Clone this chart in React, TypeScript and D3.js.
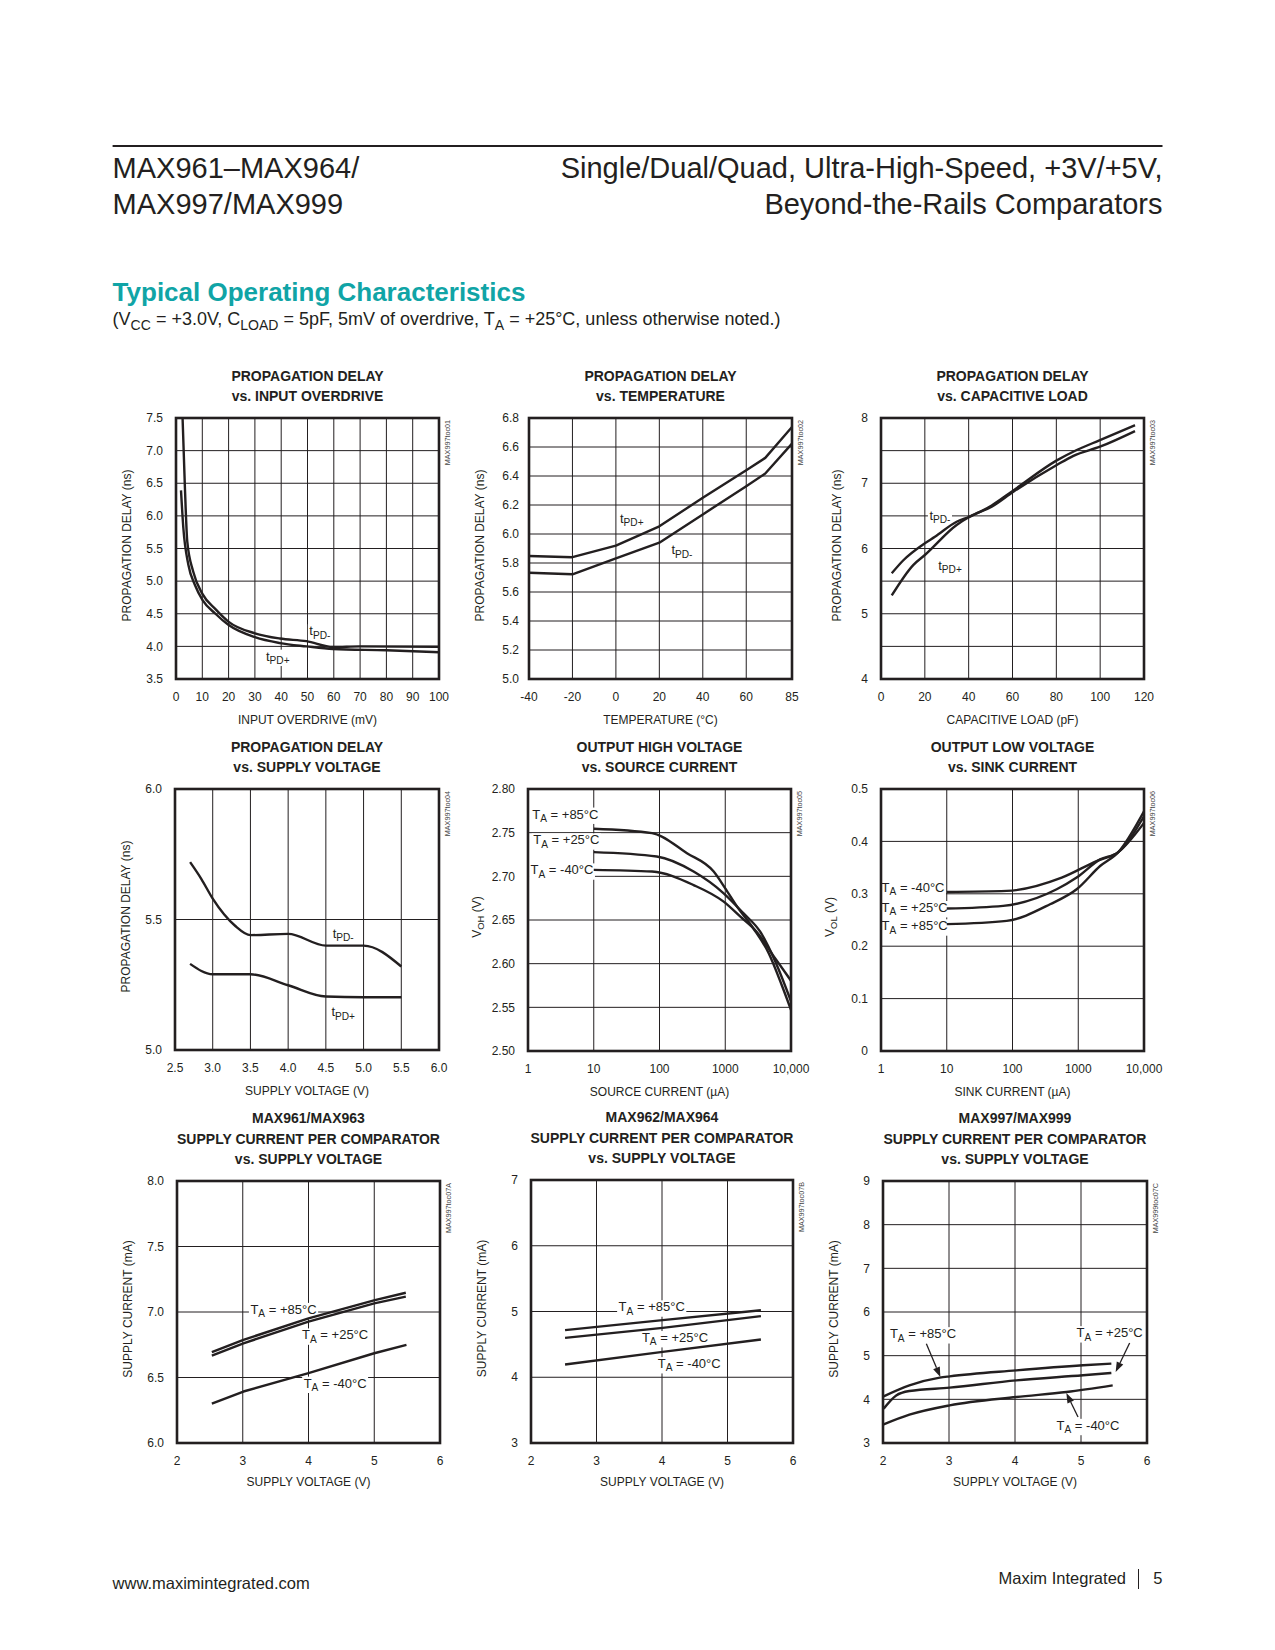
import React, { useLayoutEffect, useRef, useState } from 'react';
import * as d3 from 'd3';

type P = [number, number];

// ---------------- DATA ----------------
// 1. Propagation delay vs input overdrive
const overdriveXTicks = [0, 10, 20, 30, 40, 50, 60, 70, 80, 90, 100];
const overdriveYTicks = [3.5, 4.0, 4.5, 5.0, 5.5, 6.0, 6.5, 7.0, 7.5];
const overdriveTpdMinus: P[] = [[2.5, 7.5], [3.4, 6.42], [4.3, 5.6], [6.5, 5.15], [10.1, 4.8], [15, 4.57], [19.9, 4.38], [30, 4.2], [39.5, 4.12], [49.6, 4.08], [59.7, 3.99], [70, 4.0], [100, 3.995]];
const overdriveTpdPlus: P[] = [[1.9, 6.39], [2.8, 5.81], [4.7, 5.25], [7.2, 4.94], [10.1, 4.71], [15, 4.5], [19.9, 4.33], [30, 4.14], [39.5, 4.05], [49.6, 4.0], [59.7, 3.96], [80, 3.94], [100, 3.91]];

// 2. Propagation delay vs temperature
const tempXTicks = [-40, -20, 0, 20, 40, 60, 85];
const tempYTicks = [5.0, 5.2, 5.4, 5.6, 5.8, 6.0, 6.2, 6.4, 6.6, 6.8];
const tempTpdPlus: P[] = [[-40, 5.848], [-20, 5.84], [0, 5.92], [20, 6.053], [40, 6.25], [60, 6.44], [70.4, 6.525], [85, 6.738]];
const tempTpdMinus: P[] = [[-40, 5.733], [-20, 5.722], [0, 5.832], [20, 5.94], [40, 6.135], [60, 6.33], [70.4, 6.417], [85, 6.623]];

// 3. Propagation delay vs capacitive load
const capXTicks = [0, 20, 40, 60, 80, 100, 120];
const capYTicks = [4, 5, 6, 7, 8];
const capYGrid = [4.5, 5, 5.5, 6, 6.5, 7, 7.5];
const capTpdMinus: P[] = [[4.9, 5.62], [10.2, 5.82], [20, 6.08], [24.6, 6.18], [34.5, 6.41], [40.6, 6.49], [50.5, 6.66], [60.4, 6.89], [80.2, 7.35], [89.3, 7.51], [99.9, 7.66], [115.9, 7.89]];
const capTpdPlus: P[] = [[4.9, 5.28], [14.8, 5.75], [20, 5.9], [34.5, 6.36], [40.6, 6.49], [50.5, 6.64], [60.4, 6.87], [80.2, 7.28], [87.8, 7.42], [99.9, 7.56], [115.9, 7.8]];

// 4. Propagation delay vs supply voltage
const supplyXTicks = [2.5, 3.0, 3.5, 4.0, 4.5, 5.0, 5.5, 6.0];
const supplyYTicks = [5.0, 5.5, 6.0];
const supplyTpdMinus: P[] = [[2.7, 5.72], [2.85, 5.655], [3.0, 5.58], [3.15, 5.52], [3.3, 5.475], [3.5, 5.44], [4.0, 5.445], [4.5, 5.40], [5.0, 5.40], [5.5, 5.32]];
const supplyTpdPlus: P[] = [[2.7, 5.33], [3.0, 5.29], [3.5, 5.29], [4.0, 5.248], [4.5, 5.205], [5.0, 5.202], [5.5, 5.202]];

// 5. Output high voltage vs source current
const currentXTicks = [1, 10, 100, 1000, 10000];
const vohYTicks = [2.5, 2.55, 2.6, 2.65, 2.7, 2.75, 2.8];
const voh85: P[] = [[10, 2.7545], [77, 2.7495], [262, 2.7265], [667, 2.7055], [1000, 2.6863], [1513, 2.6653], [2700, 2.640], [4580, 2.612], [7270, 2.575], [10000, 2.547]];
const voh25: P[] = [[10, 2.7277], [91, 2.7227], [330, 2.7055], [946, 2.6806], [1900, 2.6576], [3400, 2.6366], [6100, 2.5983], [10000, 2.557]];
const vohM40: P[] = [[10, 2.7074], [77, 2.7055], [330, 2.690], [946, 2.671], [1700, 2.6538], [3000, 2.6366], [5760, 2.606], [10000, 2.5805]];

// 6. Output low voltage vs sink current
const volYTicks = [0, 0.1, 0.2, 0.3, 0.4, 0.5];
const volM40: P[] = [[10, 0.3035], [81.5, 0.3055], [560, 0.3308], [1900, 0.3625], [4070, 0.3796], [10000, 0.4354]];
const vol25: P[] = [[10, 0.2719], [72, 0.277], [470, 0.3086], [946, 0.331], [2150, 0.3657], [4070, 0.3796], [10000, 0.448]];
const vol85: P[] = [[10, 0.2421], [81.5, 0.2484], [372, 0.28], [946, 0.3086], [2150, 0.353], [4070, 0.3796], [10000, 0.4575]];

// 7-9. Supply current per comparator vs supply voltage
const vccXTicks = [2, 3, 4, 5, 6];
const icc961YTicks = [6.0, 6.5, 7.0, 7.5, 8.0];
const icc961_85: P[] = [[2.53, 6.693], [3.01, 6.787], [4.0, 6.952], [5.01, 7.091], [5.48, 7.147]];
const icc961_25: P[] = [[2.53, 6.667], [3.01, 6.761], [4.0, 6.926], [5.0, 7.066], [5.48, 7.117]];
const icc961_M40: P[] = [[2.53, 6.30], [3.01, 6.393], [4.0, 6.533], [5.0, 6.685], [5.49, 6.749]];

const icc962YTicks = [3, 4, 5, 6, 7];
const icc962_85: P[] = [[2.52, 4.716], [4.01, 4.868], [5.51, 5.02]];
const icc962_25: P[] = [[2.52, 4.599], [4.01, 4.751], [5.51, 4.929]];
const icc962_M40: P[] = [[2.52, 4.193], [4.01, 4.386], [5.51, 4.574]];

const icc997YTicks = [3, 4, 5, 6, 7, 8, 9];
const icc997_85: P[] = [[2.01, 4.069], [2.4, 4.32], [2.86, 4.496], [3.01, 4.527], [4.02, 4.664], [5.03, 4.779], [5.46, 4.817]];
const icc997_25: P[] = [[2.01, 3.786], [2.2, 4.09], [2.4, 4.19], [3.01, 4.267], [4.02, 4.435], [5.03, 4.55], [5.46, 4.603]];
const icc997_M40: P[] = [[2.01, 3.427], [2.4, 3.649], [3.01, 3.863], [4.02, 4.053], [4.78, 4.168], [5.48, 4.32]];

// ---------------- STYLE ----------------
const FONT = '"Liberation Sans", Arial, Helvetica, sans-serif';
const INK = '#231f20';
const TEAL = '#10a4a6';

type Label = { x: number; y: number; text: string; anchor?: 'start' | 'middle' | 'end' };
type ArrowD = { x1: number; y1: number; x2: number; y2: number };
type Cfg = {
  left: number; top: number; width: number; height: number;
  title: string[]; xLabel: string; yLabel: string; watermark: string;
  xType: 'linear' | 'log'; xDomain: number[]; xRange?: number[]; yDomain: number[];
  xGrid: number[]; yGrid: number[]; xTicks: number[]; yTicks: number[];
  xFmt: (d: number) => string; yFmt: (d: number) => string;
  series: P[][]; smooth: boolean; labels: Label[]; arrows?: ArrowD[];
  yLabelOffset?: number; yTickGap?: number; xTitleDy?: number;
};

const f1 = (d: number) => d.toFixed(1);
const f2 = (d: number) => d.toFixed(2);
const fi = (d: number) => String(d);
const fLog = (d: number) => (d === 10000 ? '10,000' : String(d));

function parts(s: string) {
  const out: { t: string; sub: boolean }[] = [];
  const re = /_\{([^}]*)\}/g;
  let last = 0; let m: RegExpExecArray | null;
  while ((m = re.exec(s))) {
    if (m.index > last) out.push({ t: s.slice(last, m.index), sub: false });
    out.push({ t: m[1], sub: true });
    last = m.index + m[0].length;
  }
  if (last < s.length) out.push({ t: s.slice(last), sub: false });
  return out;
}

function Rich({ s, size, subScale = 0.78, subDrop = 0.26 }: { s: string; size: number; subScale?: number; subDrop?: number }) {
  const ps = parts(s);
  const off = size * subDrop;
  let inSub = false;
  return (
    <>
      {ps.map((p, i) => {
        let dy = 0;
        if (p.sub && !inSub) dy = off;
        if (!p.sub && inSub) dy = -off;
        inSub = p.sub;
        return (
          <tspan key={i} dy={dy || undefined} fontSize={p.sub ? size * subScale : size}>{p.t}</tspan>
        );
      })}
    </>
  );
}

function BgText({ x, y, text, anchor, size }: { x: number; y: number; text: string; anchor: string; size: number }) {
  const ref = useRef<SVGTextElement>(null);
  const [bb, setBb] = useState<{ x: number; y: number; w: number; h: number } | null>(null);
  useLayoutEffect(() => {
    if (ref.current) {
      const b = ref.current.getBBox();
      setBb({ x: b.x, y: b.y, w: b.width, h: b.height });
    }
  }, [x, y, text]);
  return (
    <g>
      {bb && <rect x={bb.x - 1.5} y={bb.y + 1} width={bb.w + 3} height={bb.h - 1} fill="#fff" />}
      <text ref={ref} x={x} y={y} textAnchor={anchor as any} fontSize={size} fill={INK}>
        <Rich s={text} size={size} />
      </text>
    </g>
  );
}

function Arrow({ x1, y1, x2, y2 }: ArrowD) {
  const dx = x2 - x1, dy = y2 - y1, len = Math.hypot(dx, dy);
  const ux = dx / len, uy = dy / len;
  const hl = 10, hw = 3.6;
  const bx = x2 - ux * hl, by = y2 - uy * hl;
  return (
    <g>
      <line x1={x1} y1={y1} x2={bx} y2={by} stroke={INK} strokeWidth={1.3} />
      <polygon points={`${x2},${y2} ${bx - uy * hw},${by + ux * hw} ${bx + uy * hw},${by - ux * hw}`} fill={INK} />
    </g>
  );
}

function Chart({ c, id }: { c: Cfg; id: string }) {
  const { left, top, width, height } = c;
  const x: any = c.xType === 'log'
    ? d3.scaleLog().domain(c.xDomain).range([left, left + width])
    : d3.scaleLinear().domain(c.xDomain).range((c.xRange || [0, 1]).map((f) => left + f * width));
  const y = d3.scaleLinear().domain(c.yDomain).range([top + height, top]);
  const line = d3.line<P>().x((d) => x(d[0])).y((d) => y(d[1])).curve(c.smooth ? d3.curveMonotoneX : d3.curveLinear);
  const cx = left + width / 2;
  const nT = c.title.length;
  const gap = c.yTickGap ?? 13;
  const ylo = c.yLabelOffset ?? 45;
  const xtd = c.xTitleDy ?? 45;
  return (
    <g>
      <defs>
        <clipPath id={`clip-${id}`}><rect x={left} y={top} width={width} height={height} /></clipPath>
      </defs>
      {c.title.map((t, i) => (
        <text key={i} x={cx} y={top - 17 - (nT - 1 - i) * 20.5} textAnchor="middle" fontSize={14} fontWeight="bold" fill={INK}>{t}</text>
      ))}
      {c.xGrid.map((v) => (
        <line key={'xg' + v} x1={x(v)} x2={x(v)} y1={top} y2={top + height} stroke={INK} strokeWidth={1} />
      ))}
      {c.yGrid.map((v) => (
        <line key={'yg' + v} x1={left} x2={left + width} y1={y(v)} y2={y(v)} stroke={INK} strokeWidth={1} />
      ))}
      {c.labels.map((l, i) => (
        <BgText key={'lb' + i} x={x(l.x)} y={y(l.y) + 4.5} text={l.text} anchor={l.anchor || 'middle'} size={13} />
      ))}
      <g clipPath={`url(#clip-${id})`}>
        {c.series.map((s, i) => (
          <path key={'s' + i} d={line(s) || ''} fill="none" stroke={INK} strokeWidth={2.4} strokeLinejoin="round" />
        ))}
      </g>
      {(c.arrows || []).map((a, i) => (
        <Arrow key={'ar' + i} x1={x(a.x1)} y1={y(a.y1)} x2={x(a.x2)} y2={y(a.y2)} />
      ))}
      <rect x={left} y={top} width={width} height={height} fill="none" stroke={INK} strokeWidth={2.6} />
      {c.yTicks.map((v) => (
        <text key={'yt' + v} x={left - gap} y={y(v) + 4.2} textAnchor="end" fontSize={12} fill={INK}>{c.yFmt(v)}</text>
      ))}
      {c.xTicks.map((v) => (
        <text key={'xt' + v} x={x(v)} y={top + height + 22} textAnchor="middle" fontSize={12} fill={INK}>{c.xFmt(v)}</text>
      ))}
      <text x={cx} y={top + height + xtd} textAnchor="middle" fontSize={12} fill={INK}>
        <Rich s={c.xLabel} size={12} />
      </text>
      <text transform={`translate(${left - ylo},${top + height / 2 - 3}) rotate(-90)`} textAnchor="middle" fontSize={12} fill={INK}>
        <Rich s={c.yLabel} size={12} />
      </text>
      <text transform={`translate(${left + width + 11},${top + 2}) rotate(-90)`} textAnchor="end" fontSize={7.2} fill="#444">{c.watermark}</text>
    </g>
  );
}

const PD = 'PROPAGATION DELAY (ns)';
const SC = 'SUPPLY CURRENT (mA)';
const SV = 'SUPPLY VOLTAGE (V)';
const T85 = 'T_{A} = +85°C';
const T25 = 'T_{A} = +25°C';
const TM40 = 'T_{A} = -40°C';
const SUPPLY_TITLE = ['SUPPLY CURRENT PER COMPARATOR', 'vs. SUPPLY VOLTAGE'];

const charts: Cfg[] = [
  {
    left: 176, top: 418, width: 263, height: 261,
    title: ['PROPAGATION DELAY', 'vs. INPUT OVERDRIVE'], xLabel: 'INPUT OVERDRIVE (mV)', yLabel: PD, watermark: 'MAX997toc01',
    xType: 'linear', xDomain: [0, 100], yDomain: [3.5, 7.5],
    xGrid: overdriveXTicks.slice(1, -1), yGrid: overdriveYTicks.slice(1, -1), xTicks: overdriveXTicks, yTicks: overdriveYTicks,
    xFmt: fi, yFmt: f1, series: [overdriveTpdMinus, overdriveTpdPlus], smooth: true,
    labels: [{ x: 54.7, y: 4.24, text: 't_{PD-}' }, { x: 38.7, y: 3.85, text: 't_{PD+}' }],
  },
  {
    left: 529, top: 418, width: 263, height: 261,
    title: ['PROPAGATION DELAY', 'vs. TEMPERATURE'], xLabel: 'TEMPERATURE (°C)', yLabel: PD, watermark: 'MAX997toc02',
    xType: 'linear', xDomain: [-40, 60, 85], xRange: [0, 0.826, 1], yDomain: [5.0, 6.8],
    xGrid: tempXTicks.slice(1, -1), yGrid: tempYTicks.slice(1, -1), xTicks: tempXTicks, yTicks: tempYTicks,
    xFmt: fi, yFmt: f1, series: [tempTpdPlus, tempTpdMinus], smooth: false, yTickGap: 10,
    labels: [{ x: 7.3, y: 6.107, text: 't_{PD+}' }, { x: 30.4, y: 5.89, text: 't_{PD-}' }],
  },
  {
    left: 881, top: 418, width: 263, height: 261,
    title: ['PROPAGATION DELAY', 'vs. CAPACITIVE LOAD'], xLabel: 'CAPACITIVE LOAD (pF)', yLabel: PD, watermark: 'MAX997toc03',
    xType: 'linear', xDomain: [0, 120], yDomain: [4, 8],
    xGrid: capXTicks.slice(1, -1), yGrid: capYGrid, xTicks: capXTicks, yTicks: capYTicks,
    xFmt: fi, yFmt: fi, series: [capTpdMinus, capTpdPlus], smooth: true, yLabelOffset: 40,
    labels: [{ x: 26.9, y: 6.51, text: 't_{PD-}' }, { x: 31.5, y: 5.74, text: 't_{PD+}' }],
  },
  {
    left: 175, top: 789, width: 264, height: 261,
    title: ['PROPAGATION DELAY', 'vs. SUPPLY VOLTAGE'], xLabel: SV, yLabel: PD, watermark: 'MAX997toc04',
    xType: 'linear', xDomain: [2.5, 6.0], yDomain: [5.0, 6.0],
    xGrid: supplyXTicks.slice(1, -1), yGrid: [5.5], xTicks: supplyXTicks, yTicks: supplyYTicks,
    xFmt: f1, yFmt: f1, series: [supplyTpdMinus, supplyTpdPlus], smooth: true,
    labels: [{ x: 4.73, y: 5.448, text: 't_{PD-}' }, { x: 4.73, y: 5.147, text: 't_{PD+}' }],
  },
  {
    left: 528, top: 789, width: 263, height: 262,
    title: ['OUTPUT HIGH VOLTAGE', 'vs. SOURCE CURRENT'], xLabel: 'SOURCE CURRENT (µA)', yLabel: 'V_{OH} (V)', watermark: 'MAX997toc05',
    xType: 'log', xDomain: [1, 10000], yDomain: [2.5, 2.8],
    xGrid: [10, 100, 1000], yGrid: vohYTicks.slice(1, -1), xTicks: currentXTicks, yTicks: vohYTicks,
    xFmt: fLog, yFmt: f2, series: [voh85, voh25, vohM40], smooth: true, yLabelOffset: 47,
    labels: [{ x: 3.7, y: 2.7713, text: T85 }, { x: 3.83, y: 2.7418, text: T25 }, { x: 3.29, y: 2.7074, text: TM40 }],
  },
  {
    left: 881, top: 789, width: 263, height: 262,
    title: ['OUTPUT LOW VOLTAGE', 'vs. SINK CURRENT'], xLabel: 'SINK CURRENT (µA)', yLabel: 'V_{OL} (V)', watermark: 'MAX997toc06',
    xType: 'log', xDomain: [1, 10000], yDomain: [0, 0.5],
    xGrid: [10, 100, 1000], yGrid: volYTicks.slice(1, -1), xTicks: currentXTicks, yTicks: volYTicks,
    xFmt: fLog, yFmt: (d) => (d === 0 ? '0' : d.toFixed(1)), series: [volM40, vol25, vol85], smooth: true, yLabelOffset: 47,
    labels: [
      { x: 1.02, y: 0.3118, text: TM40, anchor: 'start' },
      { x: 1.02, y: 0.2738, text: T25, anchor: 'start' },
      { x: 1.02, y: 0.2389, text: T85, anchor: 'start' },
    ],
  },
  {
    left: 177, top: 1181, width: 263, height: 262,
    title: ['MAX961/MAX963', ...SUPPLY_TITLE], xLabel: SV, yLabel: SC, watermark: 'MAX997toc07A',
    xType: 'linear', xDomain: [2, 6], yDomain: [6, 8],
    xGrid: vccXTicks.slice(1, -1), yGrid: icc961YTicks.slice(1, -1), xTicks: vccXTicks, yTicks: icc961YTicks,
    xFmt: fi, yFmt: f1, series: [icc961_85, icc961_25, icc961_M40], smooth: false, xTitleDy: 43,
    labels: [{ x: 3.62, y: 7.02, text: T85 }, { x: 4.405, y: 6.825, text: T25 }, { x: 4.405, y: 6.457, text: TM40 }],
  },
  {
    left: 531, top: 1180, width: 262, height: 263,
    title: ['MAX962/MAX964', ...SUPPLY_TITLE], xLabel: SV, yLabel: SC, watermark: 'MAX997toc07B',
    xType: 'linear', xDomain: [2, 6], yDomain: [3, 7],
    xGrid: vccXTicks.slice(1, -1), yGrid: icc962YTicks.slice(1, -1), xTicks: vccXTicks, yTicks: icc962YTicks,
    xFmt: fi, yFmt: fi, series: [icc962_85, icc962_25, icc962_M40], smooth: false, xTitleDy: 43,
    labels: [{ x: 3.843, y: 5.071, text: T85 }, { x: 4.198, y: 4.604, text: T25 }, { x: 4.416, y: 4.208, text: TM40 }],
  },
  {
    left: 883, top: 1181, width: 264, height: 262,
    title: ['MAX997/MAX999', ...SUPPLY_TITLE], xLabel: SV, yLabel: SC, watermark: 'MAX999toc07C',
    xType: 'linear', xDomain: [2, 6], yDomain: [3, 9],
    xGrid: vccXTicks.slice(1, -1), yGrid: icc997YTicks.slice(1, -1), xTicks: vccXTicks, yTicks: icc997YTicks,
    xFmt: fi, yFmt: fi, series: [icc997_85, icc997_25, icc997_M40], smooth: true, xTitleDy: 43,
    labels: [{ x: 2.606, y: 5.504, text: T85 }, { x: 5.434, y: 5.527, text: T25 }, { x: 5.106, y: 3.405, text: TM40 }],
    arrows: [
      { x1: 2.657, y1: 5.275, x2: 2.869, y2: 4.511 },
      { x1: 5.737, y1: 5.29, x2: 5.525, y2: 4.626 },
      { x1: 4.955, y1: 3.595, x2: 4.778, y2: 4.145 },
    ],
  },
];

export default function App() {
  return (
    <svg width={1275} height={1650} style={{ position: 'absolute', left: 0, top: 0, background: '#fff' }} fontFamily={FONT}>
      <rect x={0} y={0} width={1275} height={1650} fill="#fff" />
      <line x1={112.6} x2={1162.5} y1={146} y2={146} stroke={INK} strokeWidth={1.8} />
      <text x={112.6} y={178} fontSize={29} fill={INK}>MAX961–MAX964/</text>
      <text x={112.6} y={213.5} fontSize={29} fill={INK}>MAX997/MAX999</text>
      <text x={1162.5} y={178} fontSize={29} fill={INK} textAnchor="end">Single/Dual/Quad, Ultra-High-Speed, +3V/+5V,</text>
      <text x={1162.5} y={213.5} fontSize={29} fill={INK} textAnchor="end">Beyond-the-Rails Comparators</text>
      <text x={112.6} y={300.7} fontSize={26} fontWeight="bold" fill={TEAL}>Typical Operating Characteristics</text>
      <text x={112.6} y={325} fontSize={18} fill={INK}>
        <Rich s={'(V_{CC} = +3.0V, C_{LOAD} = 5pF, 5mV of overdrive, T_{A} = +25°C, unless otherwise noted.)'} size={18} />
      </text>
      {charts.map((c, i) => (
        <Chart key={i} c={c} id={String(i)} />
      ))}
      <text x={112.6} y={1589} fontSize={16.5} fill={INK}>www.maximintegrated.com</text>
      <text x={1126} y={1584} fontSize={16.5} fill={INK} textAnchor="end">Maxim Integrated</text>
      <line x1={1138.5} x2={1138.5} y1={1569} y2={1589} stroke={INK} strokeWidth={1} />
      <text x={1162.5} y={1584} fontSize={16.5} fill={INK} textAnchor="end">5</text>
    </svg>
  );
}
